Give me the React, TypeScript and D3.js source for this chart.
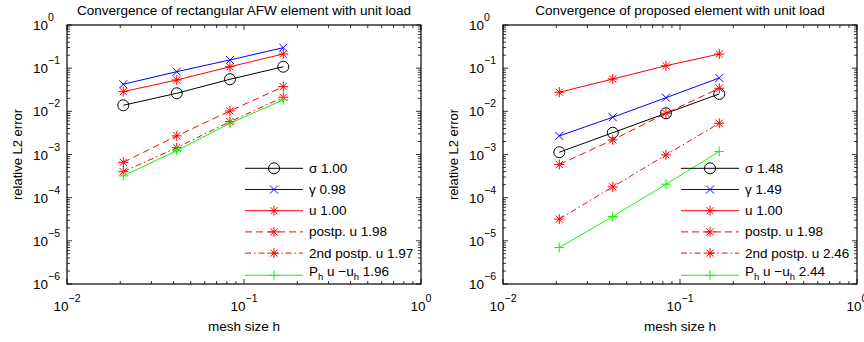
import * as d3 from "d3";
import { useEffect, useRef } from "react";

// mesh sizes h (1/48, 1/24, 1/12, 1/6)
const meshSizes = [0.0208, 0.0417, 0.0833, 0.1667];

// rectangular AFW element
const afwSigma = [0.0138, 0.0262, 0.0553, 0.108];
const afwGamma = [0.0424, 0.083, 0.155, 0.298];
const afwU = [0.0286, 0.0533, 0.108, 0.213];
const afwPostp = [0.00066, 0.0027, 0.0102, 0.0373];
const afwPostp2 = [0.0004, 0.00144, 0.00578, 0.0212];
const afwProj = [0.00032, 0.00123, 0.0053, 0.0184];
const afwRates = ["1.00", "0.98", "1.00", "1.98", "1.97", "1.96"];

// proposed element
const propSigma = [0.00113, 0.0032, 0.009, 0.0253];
const propGamma = [0.0027, 0.0073, 0.0207, 0.0593];
const propU = [0.0277, 0.056, 0.114, 0.213];
const propPostp = [0.000585, 0.00218, 0.009, 0.0342];
const propPostp2 = [0.0000318, 0.000178, 0.00098, 0.0053];
const propProj = [0.000007, 0.0000366, 0.000205, 0.00117];
const propRates = ["1.48", "1.49", "1.00", "1.98", "2.46", "2.44"];

const legendNames = ["σ", "γ", "u", "postp. u", "2nd postp. u", "P_h"];

const xDecades = [-2, -1, 0];
const yDecades = [-6, -5, -4, -3, -2, -1, 0];

type Style = { color: string; marker: string; dash: string | null };
const styles: Style[] = [
    { color: "#000000", marker: "circle", dash: null },
    { color: "#0000ff", marker: "x", dash: null },
    { color: "#ff0000", marker: "star", dash: null },
    { color: "#ff0000", marker: "star", dash: "7,4" },
    { color: "#ff0000", marker: "star", dash: "6,3,1.5,3" },
    { color: "#00ff00", marker: "plus", dash: null },
];

const FONT = "'Liberation Sans', Arial, Helvetica, sans-serif";

function markerPath(kind: string): string {
    if (kind === "x") {
        const a = 4;
        return `M${-a},${-a}L${a},${a}M${-a},${a}L${a},${-a}`;
    }
    if (kind === "plus") {
        const a = 5;
        return `M${-a},0L${a},0M0,${-a}L0,${a}`;
    }
    if (kind === "star") {
        const r = 5;
        const a = 3.6;
        return `M${-r},0L${r},0M0,${-r}L0,${r}M${-a},${-a}L${a},${a}M${-a},${a}L${a},${-a}`;
    }
    return "";
}

function drawMarker(
    g: d3.Selection<SVGGElement, unknown, null, undefined>,
    kind: string,
    color: string,
    x: number,
    y: number
) {
    if (kind === "circle") {
        g.append("circle")
            .attr("cx", x)
            .attr("cy", y)
            .attr("r", 5.5)
            .attr("fill", "none")
            .attr("stroke", color)
            .attr("stroke-width", 1);
    } else {
        g.append("path")
            .attr("d", markerPath(kind))
            .attr("transform", `translate(${x},${y})`)
            .attr("fill", "none")
            .attr("stroke", color)
            .attr("stroke-width", 1);
    }
}

function powerLabel(
    sel: d3.Selection<SVGTextElement, unknown, null, undefined>,
    exp: number
) {
    sel.append("tspan").text("10");
    sel.append("tspan")
        .attr("dy", -9)
        .style("font-size", "10.5px")
        .text(exp < 0 ? `\u2212${-exp}` : `${exp}`);
}

function drawPanel(
    svg: d3.Selection<SVGSVGElement, unknown, null, undefined>,
    left: number,
    title: string,
    series: number[][],
    rates: string[]
) {
    const top = 25;
    const bottom = 284;
    const right = left + 354;

    const x = d3.scaleLog().domain([0.01, 1]).range([left, right]);
    const y = d3.scaleLog().domain([1e-6, 1]).range([bottom, top]);

    const g = svg.append("g");

    // ticks (inside, all four sides)
    const ticks = g.append("g").attr("stroke", "#000").attr("stroke-width", 0.8);
    xDecades.forEach((d) => {
        const base = Math.pow(10, d);
        const xs = [x(base)];
        const len = [5];
        if (d < 0) {
            for (let m = 2; m <= 9; m++) {
                xs.push(x(base * m));
                len.push(3);
            }
        }
        xs.forEach((xv, i) => {
            ticks.append("line").attr("x1", xv).attr("x2", xv).attr("y1", bottom).attr("y2", bottom - len[i]);
            ticks.append("line").attr("x1", xv).attr("x2", xv).attr("y1", top).attr("y2", top + len[i]);
        });
    });
    yDecades.forEach((d) => {
        const base = Math.pow(10, d);
        const ys = [y(base)];
        const len = [5];
        if (d < 0) {
            for (let m = 2; m <= 9; m++) {
                ys.push(y(base * m));
                len.push(3);
            }
        }
        ys.forEach((yv, i) => {
            ticks.append("line").attr("y1", yv).attr("y2", yv).attr("x1", left).attr("x2", left + len[i]);
            ticks.append("line").attr("y1", yv).attr("y2", yv).attr("x1", right).attr("x2", right - len[i]);
        });
    });

    // box
    g.append("rect")
        .attr("x", left)
        .attr("y", top)
        .attr("width", right - left)
        .attr("height", bottom - top)
        .attr("fill", "none")
        .attr("stroke", "#000")
        .attr("stroke-width", 1.2);

    // tick labels
    xDecades.forEach((d) => {
        const t = g.append("text")
            .attr("x", x(Math.pow(10, d)))
            .attr("y", 311)
            .attr("text-anchor", "middle")
            .style("font-family", FONT)
            .style("font-size", "13.5px")
            .attr("fill", "#000");
        powerLabel(t, d);
    });
    yDecades.forEach((d) => {
        const t = g.append("text")
            .attr("x", left - 34)
            .attr("y", y(Math.pow(10, d)) + 5)
            .style("font-family", FONT)
            .style("font-size", "13.5px")
            .attr("fill", "#000");
        powerLabel(t, d);
    });

    // axis labels and title
    g.append("text")
        .attr("x", (left + right) / 2)
        .attr("y", 331)
        .attr("text-anchor", "middle")
        .style("font-family", FONT)
        .style("font-size", "13.5px")
        .text("mesh size h");
    g.append("text")
        .attr("transform", `translate(${left - 45},${(top + bottom) / 2}) rotate(-90)`)
        .attr("text-anchor", "middle")
        .style("font-family", FONT)
        .style("font-size", "13px")
        .text("relative L2 error");
    g.append("text")
        .attr("x", (left + right) / 2)
        .attr("y", 15)
        .attr("text-anchor", "middle")
        .style("font-family", FONT)
        .style("font-size", "13.5px")
        .text(title);

    // series
    const line = d3
        .line<number>()
        .x((_, i) => x(meshSizes[i]))
        .y((v) => y(v));

    series.forEach((vals, si) => {
        const st = styles[si];
        g.append("path")
            .attr("d", line(vals))
            .attr("fill", "none")
            .attr("stroke", st.color)
            .attr("stroke-width", 1)
            .attr("stroke-dasharray", st.dash);
        vals.forEach((v, i) => drawMarker(g, st.marker, st.color, x(meshSizes[i]), y(v)));
    });

    // legend
    const lg = g.append("g");
    styles.forEach((st, i) => {
        const ly = 168.3 + i * 21.2;
        const lineY = i === 5 ? ly + 1 : ly;
        lg.append("line")
            .attr("x1", left + 178)
            .attr("x2", left + 236)
            .attr("y1", lineY)
            .attr("y2", lineY)
            .attr("stroke", st.color)
            .attr("stroke-width", 1)
            .attr("stroke-dasharray", st.dash);
        drawMarker(lg, st.marker, st.color, left + 207, lineY);
        const t = lg.append("text")
            .attr("x", left + 242)
            .attr("y", i === 5 ? ly + 1.5 : ly + 4.5)
            .style("font-family", FONT)
            .style("font-size", "13.5px")
            .attr("fill", "#000");
        if (i === 5) {
            t.append("tspan").text("P");
            t.append("tspan").attr("dy", 4).style("font-size", "9.5px").text("h");
            t.append("tspan").attr("dy", -4).text(" u \u2212u");
            t.append("tspan").attr("dy", 4).style("font-size", "9.5px").text("h");
            t.append("tspan").attr("dy", -4).text(` ${rates[i]}`);
        } else {
            t.text(`${legendNames[i]} ${rates[i]}`);
        }
    });
}

export default function App() {
    const ref = useRef<SVGSVGElement | null>(null);

    useEffect(() => {
        if (!ref.current) return;
        const svg = d3.select(ref.current);
        svg.selectAll("*").remove();
        drawPanel(
            svg,
            67,
            "Convergence of rectangular AFW element with unit load",
            [afwSigma, afwGamma, afwU, afwPostp, afwPostp2, afwProj],
            afwRates
        );
        drawPanel(
            svg,
            503,
            "Convergence of proposed element with unit load",
            [propSigma, propGamma, propU, propPostp, propPostp2, propProj],
            propRates
        );
    }, []);

    return (
        <svg
            ref={ref}
            width={864}
            height={342}
            style={{ position: "absolute", left: 0, top: 0, background: "#fff" }}
        ></svg>
    );
}
